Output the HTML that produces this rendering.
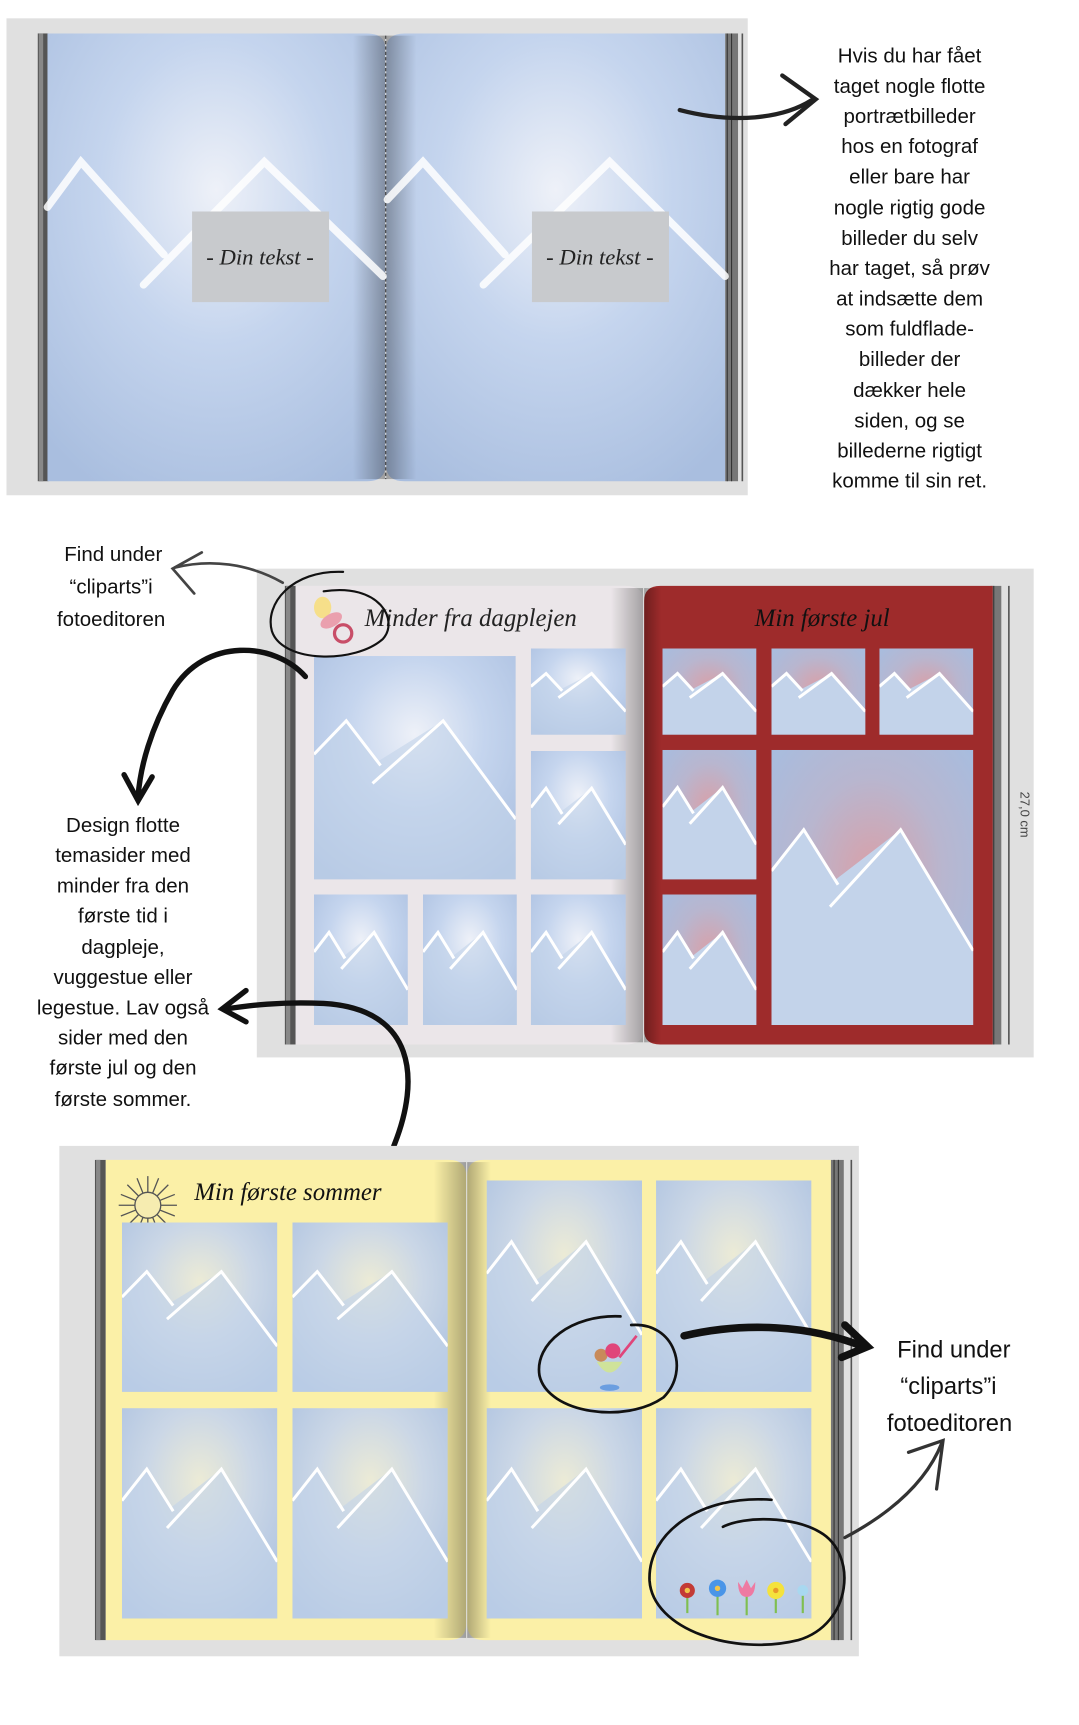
<!DOCTYPE html>
<html><head><meta charset="utf-8"><style>html,body{margin:0;padding:0;background:#fff}svg{display:block}</style></head>
<body>
<svg width="1079" height="1725" viewBox="0 0 1000 1598.7" preserveAspectRatio="none" xmlns="http://www.w3.org/2000/svg">
<defs>
<radialGradient id="gb" cx="50%" cy="35%" r="75%"><stop offset="0" stop-color="#eef1f8"/><stop offset="0.45" stop-color="#c5d5ee"/><stop offset="1" stop-color="#a9bedf"/></radialGradient>
<radialGradient id="gr" cx="50%" cy="45%" r="70%"><stop offset="0" stop-color="#d9a0a8"/><stop offset="0.5" stop-color="#b8b6cf"/><stop offset="1" stop-color="#a6bde0"/></radialGradient>
<radialGradient id="gy" cx="50%" cy="35%" r="75%"><stop offset="0" stop-color="#ecebd6"/><stop offset="0.45" stop-color="#cbd7e6"/><stop offset="1" stop-color="#aac0e0"/></radialGradient>
<linearGradient id="shL" x1="0" y1="0" x2="1" y2="0"><stop offset="0" stop-color="#000" stop-opacity="0"/><stop offset="1" stop-color="#000" stop-opacity="0.3"/></linearGradient>
<linearGradient id="shR" x1="0" y1="0" x2="1" y2="0"><stop offset="0" stop-color="#000" stop-opacity="0.3"/><stop offset="1" stop-color="#000" stop-opacity="0"/></linearGradient>
<symbol id="mb" viewBox="0 0 100 100" preserveAspectRatio="none"><rect width="100" height="100" fill="url(#gb)"/><polygon points="0,44 16,29 32,47 64,29 100,73 100,100 0,100" fill="#c3d3ea" opacity="0.6"/><polyline points="0,44 16,29 33,49" fill="none" stroke="#fff" stroke-width="3" vector-effect="non-scaling-stroke"/><polyline points="29,57 64,29 100,73" fill="none" stroke="#fff" stroke-width="3" vector-effect="non-scaling-stroke"/></symbol>
<symbol id="mr" viewBox="0 0 100 100" preserveAspectRatio="none"><rect width="100" height="100" fill="url(#gr)"/><polygon points="0,44 16,29 32,47 64,29 100,73 100,100 0,100" fill="#c3d3ea"/><polyline points="0,44 16,29 33,49" fill="none" stroke="#fff" stroke-width="3" vector-effect="non-scaling-stroke"/><polyline points="29,57 64,29 100,73" fill="none" stroke="#fff" stroke-width="3" vector-effect="non-scaling-stroke"/></symbol>
<symbol id="my" viewBox="0 0 100 100" preserveAspectRatio="none"><rect width="100" height="100" fill="url(#gy)"/><polygon points="0,44 16,29 32,47 64,29 100,73 100,100 0,100" fill="#c3d3ea" opacity="0.6"/><polyline points="0,44 16,29 33,49" fill="none" stroke="#fff" stroke-width="3" vector-effect="non-scaling-stroke"/><polyline points="29,57 64,29 100,73" fill="none" stroke="#fff" stroke-width="3" vector-effect="non-scaling-stroke"/></symbol>
</defs>

<!-- BOOK 1 -->
<rect x="6" y="17" width="687" height="442" fill="#e0e0e0"/>
<rect x="35" y="31" width="10" height="415" fill="#555"/>
<rect x="672" y="31" width="12" height="415" fill="#777"/>
<line x1="674" y1="31" x2="674" y2="446" stroke="#333" stroke-width="1"/>
<line x1="678" y1="31" x2="678" y2="446" stroke="#333" stroke-width="1"/>
<line x1="688" y1="31" x2="688" y2="446" stroke="#555" stroke-width="1.5"/>
<path d="M44,31 H340 Q357,31 357,45 V432 Q357,446 340,446 H44 Z" fill="url(#gb)"/>
<path d="M375,31 H672 V446 H375 Q358,446 358,432 V45 Q358,31 375,31 Z" fill="url(#gb)"/>
<rect x="327" y="33" width="30" height="411" fill="url(#shL)"/>
<rect x="358" y="33" width="28" height="411" fill="url(#shR)"/>
<line x1="357.5" y1="33" x2="357.5" y2="444" stroke="#333" stroke-width="1" stroke-dasharray="3,2"/>
<rect x="36" y="31" width="4" height="415" fill="#888"/>
<g fill="none" stroke="#fff" stroke-width="7" opacity="0.85" stroke-linecap="round">
<polyline points="44,192 75,150 152,236"/><polyline points="133,264 245,150 355,256"/>
<polyline points="359,185 392,150 468,236"/><polyline points="448,264 565,150 672,256"/>
</g>
<rect x="178" y="196" width="127" height="84" fill="#c8cacd"/>
<rect x="493" y="196" width="127" height="84" fill="#c8cacd"/>
<text x="241" y="245" text-anchor="middle" font-family="Liberation Serif, serif" font-style="italic" font-size="21" fill="#222">- Din tekst -</text>
<text x="556" y="245" text-anchor="middle" font-family="Liberation Serif, serif" font-style="italic" font-size="21" fill="#222">- Din tekst -</text>

<g font-family="Liberation Sans, DejaVu Sans, sans-serif" font-size="19" fill="#111" text-anchor="middle">
<text x="843" y="58">Hvis du har fået</text>
<text x="843" y="86">taget nogle flotte</text>
<text x="843" y="114">portrætbilleder</text>
<text x="843" y="142">hos en fotograf</text>
<text x="843" y="170">eller bare har</text>
<text x="843" y="199">nogle rigtig gode</text>
<text x="843" y="227">billeder du selv</text>
<text x="843" y="255">har taget, så prøv</text>
<text x="843" y="283">at indsætte dem</text>
<text x="843" y="311">som fuldflade-</text>
<text x="843" y="339">billeder der</text>
<text x="843" y="368">dækker hele</text>
<text x="843" y="396">siden, og se</text>
<text x="843" y="424">billederne rigtigt</text>
<text x="843" y="452">komme til sin ret.</text>
</g>
<g fill="none" stroke="#222" stroke-width="4" stroke-linecap="round">
<path d="M630,102 C680,115 725,110 752,93"/>
<polyline points="725,70 756,92 728,115"/>
</g>

<!-- BOOK 2 -->
<rect x="238" y="527" width="720" height="453" fill="#e0e0e0"/>
<rect x="264" y="543" width="10" height="425" fill="#555"/>
<rect x="918" y="543" width="10" height="425" fill="#777"/>
<line x1="921" y1="543" x2="921" y2="968" stroke="#333" stroke-width="1"/>
<line x1="935" y1="543" x2="935" y2="968" stroke="#555" stroke-width="1.5"/>
<path d="M274,543 H580 Q596,543 596,557 V955 Q596,968 580,968 H274 Z" fill="#ebe6e9"/>
<rect x="566" y="545" width="30" height="421" fill="url(#shL)"/>
<path d="M612,543 H920 V968 H612 Q597,968 597,955 V557 Q597,543 612,543 Z" fill="#9e2b2b"/>
<rect x="597" y="545" width="16" height="421" fill="url(#shR)"/>
<rect x="265" y="543" width="4" height="425" fill="#888"/>
<text x="338" y="580" font-family="Liberation Serif, serif" font-style="italic" font-size="23" fill="#222">Minder fra dagplejen</text>
<text x="762" y="580" text-anchor="middle" font-family="Liberation Serif, serif" font-style="italic" font-size="23" fill="#111">Min første jul</text>
<ellipse cx="299" cy="563" rx="8" ry="10" fill="#f6df8a"/>
<ellipse cx="307" cy="575" rx="11" ry="6" fill="#eaa0ae" transform="rotate(-30 307 575)"/>
<circle cx="318" cy="587" r="8" fill="none" stroke="#c84e68" stroke-width="3"/>
<use href="#mb" x="291" y="608" width="187" height="207"/>
<use href="#mb" x="492" y="601" width="88" height="80"/>
<use href="#mb" x="492" y="696" width="88" height="119"/>
<use href="#mb" x="291" y="829" width="87" height="121"/>
<use href="#mb" x="392" y="829" width="87" height="121"/>
<use href="#mb" x="492" y="829" width="88" height="121"/>
<use href="#mr" x="614" y="601" width="87" height="80"/>
<use href="#mr" x="715" y="601" width="87" height="80"/>
<use href="#mr" x="815" y="601" width="87" height="80"/>
<use href="#mr" x="614" y="695" width="87" height="120"/>
<use href="#mr" x="614" y="829" width="87" height="121"/>
<use href="#mr" x="715" y="695" width="187" height="255"/>
<text transform="translate(946 755) rotate(90)" text-anchor="middle" font-family="Liberation Sans, sans-serif" font-size="12" fill="#444">27,0 cm</text>

<g font-family="Liberation Sans, DejaVu Sans, sans-serif" font-size="19" fill="#111" text-anchor="middle">
<text x="105" y="520">Find under</text>
<text x="103" y="550">“cliparts”i</text>
<text x="103" y="580">fotoeditoren</text>
<text x="114" y="771">Design flotte</text>
<text x="114" y="799">temasider med</text>
<text x="114" y="827">minder fra den</text>
<text x="114" y="855">første tid i</text>
<text x="114" y="884">dagpleje,</text>
<text x="114" y="912">vuggestue eller</text>
<text x="114" y="940">legestue. Lav også</text>
<text x="114" y="968">sider med den</text>
<text x="114" y="996">første jul og den</text>
<text x="114" y="1025">første sommer.</text>
</g>
<g fill="none" stroke="#444" stroke-width="2.5" stroke-linecap="round">
<path d="M262,540 C230,522 195,518 162,526"/>
<polyline points="187,512 160,527 180,550"/>
</g>
<g fill="none" stroke="#111" stroke-width="2" stroke-linecap="round">
<path d="M318,530 C270,528 245,560 252,585 C262,615 330,615 355,592 C370,575 352,540 300,548"/>
</g>
<g fill="none" stroke="#111" stroke-width="5" stroke-linecap="round">
<path d="M283,627 C255,595 190,590 160,640 C140,675 130,710 128,738"/>
<polyline points="115,718 128,742 141,720"/>
<path d="M365,1062 C390,1000 385,935 300,930 C260,928 230,932 210,935"/>
<polyline points="228,918 206,935 228,947"/>
</g>

<!-- BOOK 3 -->
<rect x="55" y="1062" width="741" height="473" fill="#e0e0e0"/>
<rect x="88" y="1075" width="10" height="445" fill="#555"/>
<rect x="770" y="1075" width="12" height="445" fill="#777"/>
<line x1="773" y1="1075" x2="773" y2="1520" stroke="#333" stroke-width="1"/>
<line x1="777" y1="1075" x2="777" y2="1520" stroke="#333" stroke-width="1"/>
<line x1="789" y1="1075" x2="789" y2="1520" stroke="#555" stroke-width="1.5"/>
<path d="M98,1075 H416 Q432,1075 432,1090 V1505 Q432,1520 416,1520 H98 Z" fill="#fbf0a7"/>
<rect x="402" y="1077" width="30" height="441" fill="url(#shL)"/>
<path d="M448,1075 H770 V1520 H448 Q433,1520 433,1505 V1090 Q433,1075 448,1075 Z" fill="#fbf0a7"/>
<rect x="433" y="1077" width="22" height="441" fill="url(#shR)"/>
<rect x="89" y="1075" width="4" height="445" fill="#888"/>
<text x="180" y="1112" font-family="Liberation Serif, serif" font-style="italic" font-size="23" fill="#111">Min første sommer</text>
<g stroke="#555" stroke-width="1.2">
<line x1="137" y1="1090" x2="137" y2="1144"/><line x1="110" y1="1117" x2="164" y2="1117"/>
<line x1="118" y1="1098" x2="156" y2="1136"/><line x1="156" y1="1098" x2="118" y2="1136"/>
<line x1="127" y1="1092" x2="147" y2="1142"/><line x1="147" y1="1092" x2="127" y2="1142"/>
<line x1="112" y1="1107" x2="162" y2="1127"/><line x1="162" y1="1107" x2="112" y2="1127"/>
</g>
<circle cx="137" cy="1117" r="12" fill="#f6ecb0" stroke="#555" stroke-width="1.2"/>
<use href="#my" x="113" y="1133" width="144" height="157"/>
<use href="#my" x="271" y="1133" width="144" height="157"/>
<use href="#my" x="113" y="1305" width="144" height="195"/>
<use href="#my" x="271" y="1305" width="144" height="195"/>
<use href="#my" x="451" y="1094" width="144" height="196"/>
<use href="#my" x="608" y="1094" width="144" height="196"/>
<use href="#my" x="451" y="1305" width="144" height="195"/>
<use href="#my" x="608" y="1305" width="144" height="195"/>
<path d="M553,1262 Q565,1282 577,1262 Z" fill="#cfe39a"/>
<circle cx="557" cy="1256" r="6" fill="#c88a5a"/><circle cx="568" cy="1252" r="7" fill="#e0457a"/>
<line x1="574" y1="1258" x2="590" y2="1238" stroke="#e0457a" stroke-width="2.5"/>
<ellipse cx="565" cy="1286" rx="9" ry="3" fill="#6b9ee0"/>
<g>
<line x1="637" y1="1478" x2="637" y2="1495" stroke="#7fbf50" stroke-width="2"/><circle cx="637" cy="1474" r="7" fill="#c33b36"/><circle cx="637" cy="1474" r="2.5" fill="#f2c44a"/>
<line x1="665" y1="1478" x2="665" y2="1497" stroke="#7fbf50" stroke-width="2"/><circle cx="665" cy="1472" r="8" fill="#4a95e8"/><circle cx="665" cy="1472" r="2.5" fill="#f2c44a"/>
<line x1="692" y1="1478" x2="692" y2="1497" stroke="#7fbf50" stroke-width="2"/><path d="M684,1466 L688,1472 L692,1464 L696,1472 L700,1466 Q700,1480 692,1480 Q684,1480 684,1466Z" fill="#ee7aa2"/>
<line x1="719" y1="1478" x2="719" y2="1495" stroke="#7fbf50" stroke-width="2"/><circle cx="719" cy="1474" r="8" fill="#f4e23c"/><circle cx="719" cy="1474" r="2.5" fill="#e89a2a"/>
<line x1="744" y1="1478" x2="744" y2="1495" stroke="#7fbf50" stroke-width="2"/><circle cx="744" cy="1474" r="5" fill="#a8d8f0"/>
</g>
<g fill="none" stroke="#111" stroke-width="2.5" stroke-linecap="round">
<path d="M575,1220 C530,1218 495,1245 500,1275 C508,1310 580,1320 615,1295 C640,1270 625,1225 585,1228"/>
<path d="M715,1390 C650,1385 600,1420 602,1465 C605,1510 680,1535 740,1520 C790,1505 795,1440 760,1420 C735,1405 690,1405 670,1415"/>
</g>
<g fill="none" stroke="#111" stroke-width="7" stroke-linecap="round">
<path d="M634,1238 C690,1225 750,1228 800,1248"/>
<polyline points="783,1228 804,1248 780,1258"/>
</g>
<g fill="none" stroke="#333" stroke-width="3" stroke-linecap="round">
<path d="M783,1425 C830,1400 860,1370 873,1337"/>
<polyline points="842,1346 874,1335 868,1380"/>
</g>
<g font-family="Liberation Sans, DejaVu Sans, sans-serif" font-size="22" fill="#111" text-anchor="middle">
<text x="884" y="1258">Find under</text>
<text x="879" y="1292">“cliparts”i</text>
<text x="880" y="1326">fotoeditoren</text>
</g>
</svg>
</body></html>
